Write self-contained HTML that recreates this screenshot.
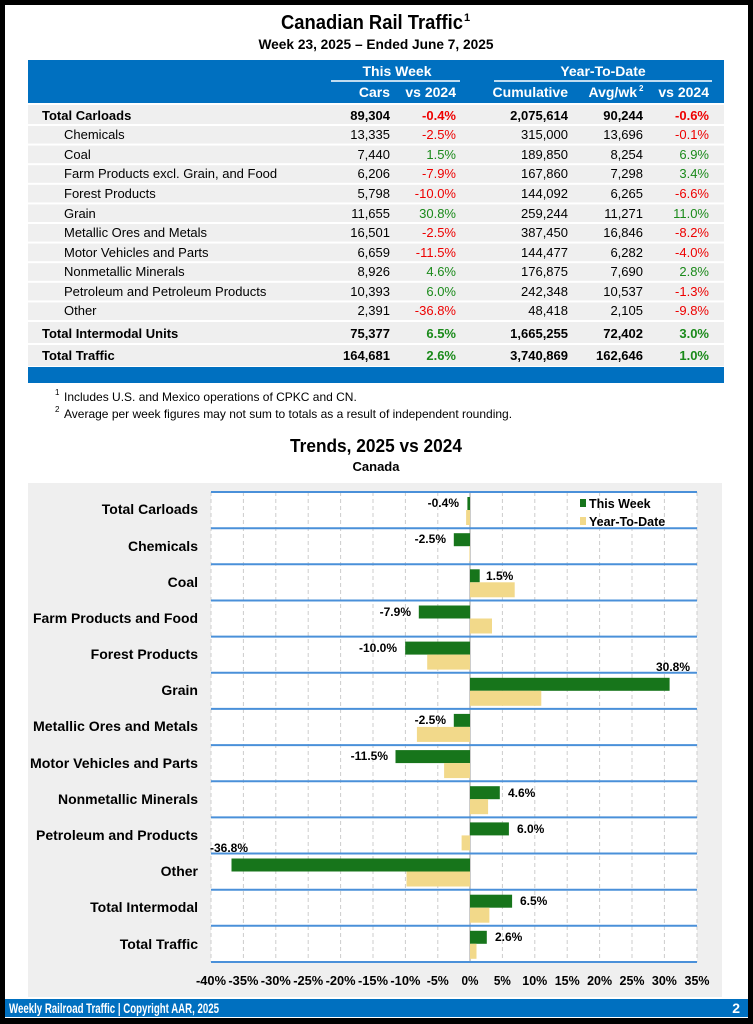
<!DOCTYPE html>
<html><head><meta charset="utf-8"><style>
html,body{margin:0;padding:0;background:#000;}
svg{display:block;}
.n{font-family:"Liberation Sans Narrow","Liberation Sans",sans-serif;font-weight:bold;}
.r{font-family:"Liberation Sans",sans-serif;}
</style></head><body>
<svg width="753" height="1024" viewBox="0 0 753 1024" xmlns="http://www.w3.org/2000/svg">
<rect x="0" y="0" width="753" height="1024" fill="#000"/>
<rect x="5" y="5" width="743" height="1013" fill="#fff"/>
<text x="372" y="29" text-anchor="middle" class="n" font-size="20" fill="#000" textLength="182" lengthAdjust="spacingAndGlyphs">Canadian Rail Traffic</text><text x="464" y="21" class="n" font-size="11">1</text>
<text x="376" y="49" text-anchor="middle" class="n" font-size="14" fill="#000" textLength="235" lengthAdjust="spacingAndGlyphs">Week 23, 2025 – Ended June 7, 2025</text>
<rect x="28" y="60" width="696" height="43" fill="#0070c0"/>
<g class="n" font-size="14" fill="#fff">
<text x="397" y="76" text-anchor="middle">This Week</text>
<text x="603" y="76" text-anchor="middle">Year-To-Date</text>
<text x="390" y="97" text-anchor="end">Cars</text>
<text x="456" y="97" text-anchor="end">vs 2024</text>
<text x="568" y="97" text-anchor="end">Cumulative</text>
<text x="637" y="97" text-anchor="end">Avg/wk</text><text x="639" y="91" font-size="8">2</text>
<text x="709" y="97" text-anchor="end">vs 2024</text>
</g>
<line x1="331" y1="81" x2="460" y2="81" stroke="#fff" stroke-width="1.5"/>
<line x1="494" y1="81" x2="712" y2="81" stroke="#fff" stroke-width="1.5"/>
<g fill="#efefef">
<rect x="28" y="105" width="696" height="19"/>
<rect x="28" y="126" width="696" height="17.6"/>
<rect x="28" y="145.6" width="696" height="17.6"/>
<rect x="28" y="165.2" width="696" height="17.6"/>
<rect x="28" y="184.8" width="696" height="17.6"/>
<rect x="28" y="204.4" width="696" height="17.6"/>
<rect x="28" y="224" width="696" height="17.6"/>
<rect x="28" y="243.6" width="696" height="17.6"/>
<rect x="28" y="263.2" width="696" height="17.6"/>
<rect x="28" y="282.8" width="696" height="17.6"/>
<rect x="28" y="302.4" width="696" height="17.6"/>
<rect x="28" y="322" width="696" height="21"/>
<rect x="28" y="345" width="696" height="21"/>
</g>
<rect x="28" y="367" width="696" height="16" fill="#0070c0"/>
<g class="r" font-size="13" fill="#000">
<g font-weight="bold">
<text x="42" y="120">Total Carloads</text><text x="390" y="120" text-anchor="end">89,304</text><text x="456" y="120" text-anchor="end" fill="#e00">-0.4%</text><text x="568" y="120" text-anchor="end">2,075,614</text><text x="643" y="120" text-anchor="end">90,244</text><text x="709" y="120" text-anchor="end" fill="#e00">-0.6%</text>
<text x="42" y="338">Total Intermodal Units</text><text x="390" y="338" text-anchor="end">75,377</text><text x="456" y="338" text-anchor="end" fill="#1a8a1a">6.5%</text><text x="568" y="338" text-anchor="end">1,665,255</text><text x="643" y="338" text-anchor="end">72,402</text><text x="709" y="338" text-anchor="end" fill="#1a8a1a">3.0%</text>
<text x="42" y="360">Total Traffic</text><text x="390" y="360" text-anchor="end">164,681</text><text x="456" y="360" text-anchor="end" fill="#1a8a1a">2.6%</text><text x="568" y="360" text-anchor="end">3,740,869</text><text x="643" y="360" text-anchor="end">162,646</text><text x="709" y="360" text-anchor="end" fill="#1a8a1a">1.0%</text>
</g>
<text x="64" y="139">Chemicals</text><text x="390" y="139" text-anchor="end">13,335</text><text x="456" y="139" text-anchor="end" fill="#e00">-2.5%</text><text x="568" y="139" text-anchor="end">315,000</text><text x="643" y="139" text-anchor="end">13,696</text><text x="709" y="139" text-anchor="end" fill="#e00">-0.1%</text>
<text x="64" y="159">Coal</text><text x="390" y="159" text-anchor="end">7,440</text><text x="456" y="159" text-anchor="end" fill="#1a8a1a">1.5%</text><text x="568" y="159" text-anchor="end">189,850</text><text x="643" y="159" text-anchor="end">8,254</text><text x="709" y="159" text-anchor="end" fill="#1a8a1a">6.9%</text>
<text x="64" y="178">Farm Products excl. Grain, and Food</text><text x="390" y="178" text-anchor="end">6,206</text><text x="456" y="178" text-anchor="end" fill="#e00">-7.9%</text><text x="568" y="178" text-anchor="end">167,860</text><text x="643" y="178" text-anchor="end">7,298</text><text x="709" y="178" text-anchor="end" fill="#1a8a1a">3.4%</text>
<text x="64" y="198">Forest Products</text><text x="390" y="198" text-anchor="end">5,798</text><text x="456" y="198" text-anchor="end" fill="#e00">-10.0%</text><text x="568" y="198" text-anchor="end">144,092</text><text x="643" y="198" text-anchor="end">6,265</text><text x="709" y="198" text-anchor="end" fill="#e00">-6.6%</text>
<text x="64" y="218">Grain</text><text x="390" y="218" text-anchor="end">11,655</text><text x="456" y="218" text-anchor="end" fill="#1a8a1a">30.8%</text><text x="568" y="218" text-anchor="end">259,244</text><text x="643" y="218" text-anchor="end">11,271</text><text x="709" y="218" text-anchor="end" fill="#1a8a1a">11.0%</text>
<text x="64" y="237">Metallic Ores and Metals</text><text x="390" y="237" text-anchor="end">16,501</text><text x="456" y="237" text-anchor="end" fill="#e00">-2.5%</text><text x="568" y="237" text-anchor="end">387,450</text><text x="643" y="237" text-anchor="end">16,846</text><text x="709" y="237" text-anchor="end" fill="#e00">-8.2%</text>
<text x="64" y="257">Motor Vehicles and Parts</text><text x="390" y="257" text-anchor="end">6,659</text><text x="456" y="257" text-anchor="end" fill="#e00">-11.5%</text><text x="568" y="257" text-anchor="end">144,477</text><text x="643" y="257" text-anchor="end">6,282</text><text x="709" y="257" text-anchor="end" fill="#e00">-4.0%</text>
<text x="64" y="276">Nonmetallic Minerals</text><text x="390" y="276" text-anchor="end">8,926</text><text x="456" y="276" text-anchor="end" fill="#1a8a1a">4.6%</text><text x="568" y="276" text-anchor="end">176,875</text><text x="643" y="276" text-anchor="end">7,690</text><text x="709" y="276" text-anchor="end" fill="#1a8a1a">2.8%</text>
<text x="64" y="296">Petroleum and Petroleum Products</text><text x="390" y="296" text-anchor="end">10,393</text><text x="456" y="296" text-anchor="end" fill="#1a8a1a">6.0%</text><text x="568" y="296" text-anchor="end">242,348</text><text x="643" y="296" text-anchor="end">10,537</text><text x="709" y="296" text-anchor="end" fill="#e00">-1.3%</text>
<text x="64" y="315">Other</text><text x="390" y="315" text-anchor="end">2,391</text><text x="456" y="315" text-anchor="end" fill="#e00">-36.8%</text><text x="568" y="315" text-anchor="end">48,418</text><text x="643" y="315" text-anchor="end">2,105</text><text x="709" y="315" text-anchor="end" fill="#e00">-9.8%</text>
</g>
<g class="r" font-size="12" fill="#000">
<text x="55" y="395" font-size="8">1</text><text x="64" y="401">Includes U.S. and Mexico operations of CPKC and CN.</text>
<text x="55" y="412" font-size="8">2</text><text x="64" y="418">Average per week figures may not sum to totals as a result of independent rounding.</text>
</g>
<text x="376" y="452" text-anchor="middle" class="n" font-size="18" textLength="172" lengthAdjust="spacingAndGlyphs">Trends, 2025 vs 2024</text>
<text x="376" y="471" text-anchor="middle" class="n" font-size="13">Canada</text>
<rect x="28" y="483" width="694" height="514" fill="#efefef"/>
<rect x="211" y="492" width="486" height="470" fill="#fff"/>
<g stroke="#ccc" stroke-dasharray="4,3" stroke-width="1">
<line x1="243.4" y1="492" x2="243.4" y2="962"/><line x1="275.8" y1="492" x2="275.8" y2="962"/><line x1="308.2" y1="492" x2="308.2" y2="962"/><line x1="340.6" y1="492" x2="340.6" y2="962"/><line x1="373" y1="492" x2="373" y2="962"/><line x1="405.4" y1="492" x2="405.4" y2="962"/><line x1="437.8" y1="492" x2="437.8" y2="962"/><line x1="502.4" y1="492" x2="502.4" y2="962"/><line x1="534.8" y1="492" x2="534.8" y2="962"/><line x1="567.2" y1="492" x2="567.2" y2="962"/><line x1="599.6" y1="492" x2="599.6" y2="962"/><line x1="632" y1="492" x2="632" y2="962"/><line x1="664.4" y1="492" x2="664.4" y2="962"/><line x1="211" y1="492" x2="211" y2="962"/><line x1="697" y1="492" x2="697" y2="962"/>
</g>
<line x1="470" y1="492" x2="470" y2="962" stroke="#999" stroke-width="1"/>
<g stroke="#4a90d9" stroke-width="2">
<line x1="211" y1="492" x2="697" y2="492"/><line x1="211" y1="528.2" x2="697" y2="528.2"/><line x1="211" y1="564.3" x2="697" y2="564.3"/><line x1="211" y1="600.5" x2="697" y2="600.5"/><line x1="211" y1="636.6" x2="697" y2="636.6"/><line x1="211" y1="672.8" x2="697" y2="672.8"/><line x1="211" y1="708.9" x2="697" y2="708.9"/><line x1="211" y1="745.1" x2="697" y2="745.1"/><line x1="211" y1="781.2" x2="697" y2="781.2"/><line x1="211" y1="817.4" x2="697" y2="817.4"/><line x1="211" y1="853.5" x2="697" y2="853.5"/><line x1="211" y1="889.7" x2="697" y2="889.7"/><line x1="211" y1="925.8" x2="697" y2="925.8"/><line x1="211" y1="962" x2="697" y2="962"/>
</g>
<g fill="#17751b">
<rect x="467.4" y="497" width="2.6" height="13"/>
<rect x="453.8" y="533.2" width="16.2" height="13"/>
<rect x="470" y="569.3" width="9.7" height="13"/>
<rect x="418.8" y="605.5" width="51.2" height="13"/>
<rect x="405.2" y="641.6" width="64.8" height="13"/>
<rect x="470" y="677.8" width="199.6" height="13"/>
<rect x="453.8" y="713.9" width="16.2" height="13"/>
<rect x="395.5" y="750.1" width="74.5" height="13"/>
<rect x="470" y="786.2" width="29.8" height="13"/>
<rect x="470" y="822.4" width="38.9" height="13"/>
<rect x="231.5" y="858.5" width="238.5" height="13"/>
<rect x="470" y="894.7" width="42.1" height="13"/>
<rect x="470" y="930.8" width="16.8" height="13"/>
</g>
<g fill="#f2d98a">
<rect x="466.1" y="510" width="3.9" height="15"/>
<rect x="469.4" y="546.2" width="0.6" height="15"/>
<rect x="470" y="582.3" width="44.7" height="15"/>
<rect x="470" y="618.5" width="22" height="15"/>
<rect x="427.2" y="654.6" width="42.8" height="15"/>
<rect x="470" y="690.8" width="71.3" height="15"/>
<rect x="416.9" y="726.9" width="53.1" height="15"/>
<rect x="444.1" y="763.1" width="25.9" height="15"/>
<rect x="470" y="799.2" width="18.1" height="15"/>
<rect x="461.6" y="835.4" width="8.4" height="15"/>
<rect x="406.5" y="871.5" width="63.5" height="15"/>
<rect x="470" y="907.7" width="19.4" height="15"/>
<rect x="470" y="943.8" width="6.5" height="15"/>
</g>
<g class="n" font-size="12" fill="#000">
<text x="459" y="507" text-anchor="end">-0.4%</text>
<text x="446" y="543" text-anchor="end">-2.5%</text>
<text x="486" y="580">1.5%</text>
<text x="411" y="616" text-anchor="end">-7.9%</text>
<text x="397" y="652" text-anchor="end">-10.0%</text>
<text x="690" y="671" text-anchor="end">30.8%</text>
<text x="446" y="724" text-anchor="end">-2.5%</text>
<text x="388" y="760" text-anchor="end">-11.5%</text>
<text x="508" y="797">4.6%</text>
<text x="517" y="833">6.0%</text>
<text x="210" y="852">-36.8%</text>
<text x="520" y="905">6.5%</text>
<text x="495" y="941">2.6%</text>
</g>
<rect x="580" y="499" width="6" height="8" fill="#17751b"/>
<rect x="580" y="517" width="6" height="8" fill="#f2d98a"/>
<g class="n" font-size="12.5" fill="#000">
<text x="589" y="508">This Week</text>
<text x="589" y="526">Year-To-Date</text>
</g>
<g class="n" font-size="14" fill="#000" text-anchor="end">
<text x="198" y="514">Total Carloads</text>
<text x="198" y="551">Chemicals</text>
<text x="198" y="587">Coal</text>
<text x="198" y="623" textLength="165" lengthAdjust="spacingAndGlyphs">Farm Products and Food</text>
<text x="198" y="659">Forest Products</text>
<text x="198" y="695">Grain</text>
<text x="198" y="731" textLength="165" lengthAdjust="spacingAndGlyphs">Metallic Ores and Metals</text>
<text x="198" y="768" textLength="168" lengthAdjust="spacingAndGlyphs">Motor Vehicles and Parts</text>
<text x="198" y="804">Nonmetallic Minerals</text>
<text x="198" y="840" textLength="162" lengthAdjust="spacingAndGlyphs">Petroleum and Products</text>
<text x="198" y="876">Other</text>
<text x="198" y="912">Total Intermodal</text>
<text x="198" y="949">Total Traffic</text>
</g>
<g class="n" font-size="13" fill="#000">
<text x="196" y="985" textLength="30" lengthAdjust="spacingAndGlyphs">-40%</text><text x="228.4" y="985" textLength="30" lengthAdjust="spacingAndGlyphs">-35%</text><text x="260.8" y="985" textLength="30" lengthAdjust="spacingAndGlyphs">-30%</text><text x="293.2" y="985" textLength="30" lengthAdjust="spacingAndGlyphs">-25%</text><text x="325.6" y="985" textLength="30" lengthAdjust="spacingAndGlyphs">-20%</text><text x="358" y="985" textLength="30" lengthAdjust="spacingAndGlyphs">-15%</text><text x="390.4" y="985" textLength="30" lengthAdjust="spacingAndGlyphs">-10%</text><text x="426.8" y="985" textLength="22" lengthAdjust="spacingAndGlyphs">-5%</text><text x="461.5" y="985" textLength="17" lengthAdjust="spacingAndGlyphs">0%</text><text x="493.9" y="985" textLength="17" lengthAdjust="spacingAndGlyphs">5%</text><text x="522.3" y="985" textLength="25" lengthAdjust="spacingAndGlyphs">10%</text><text x="554.7" y="985" textLength="25" lengthAdjust="spacingAndGlyphs">15%</text><text x="587.1" y="985" textLength="25" lengthAdjust="spacingAndGlyphs">20%</text><text x="619.5" y="985" textLength="25" lengthAdjust="spacingAndGlyphs">25%</text><text x="651.9" y="985" textLength="25" lengthAdjust="spacingAndGlyphs">30%</text><text x="684.5" y="985" textLength="25" lengthAdjust="spacingAndGlyphs">35%</text>
</g>
<rect x="5" y="999" width="743" height="18" fill="#0070c0"/>
<text x="9" y="1013" class="n" font-size="14" fill="#fff" textLength="210" lengthAdjust="spacingAndGlyphs">Weekly Railroad Traffic | Copyright AAR, 2025</text>
<text x="740" y="1013" class="n" font-size="14" fill="#fff" text-anchor="end">2</text>
</svg>
</body></html>
